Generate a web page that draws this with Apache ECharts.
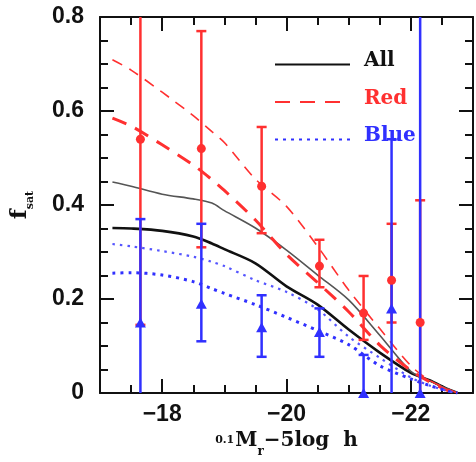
<!DOCTYPE html>
<html>
<head>
<meta charset="utf-8">
<script src="https://cdn.jsdelivr.net/npm/echarts@6/dist/echarts.min.js"></script>
<style>
  html, body { margin: 0; padding: 0; background: #fff; }
  #chart { width: 476px; height: 462px; }
</style>
</head>
<body>
<div id="chart"></div>
<script>
// Absolute magnitude grid shared by the model curves
const magGrid = [-17.2, -17.5, -18.0, -18.5, -18.8, -19.0, -19.5, -20.0, -20.5, -21.0, -21.5, -22.0, -22.3, -22.6, -22.75];

// Satellite fraction, two models per population
const allThick  = [0.351, 0.350, 0.345, 0.333, 0.318, 0.306, 0.276, 0.227, 0.188, 0.135, 0.086, 0.043, 0.027, 0.008, 0];
const allThin   = [0.449, 0.440, 0.423, 0.413, 0.404, 0.388, 0.351, 0.304, 0.251, 0.198, 0.123, 0.046, 0.026, 0.008, 0];
const redThick  = [0.585, 0.568, 0.528, 0.485, 0.454, 0.431, 0.368, 0.295, 0.235, 0.173, 0.102, 0.048, 0.024, 0.005, 0];
const redThin   = [0.709, 0.687, 0.640, 0.590, 0.556, 0.533, 0.455, 0.397, 0.312, 0.219, 0.137, 0.058, 0.027, 0.008, 0];
const blueThick = [0.255, 0.256, 0.251, 0.237, 0.222, 0.212, 0.188, 0.161, 0.133, 0.103, 0.058, 0.030, 0.016, 0.004, 0];
const blueThin  = [0.317, 0.312, 0.302, 0.290, 0.279, 0.270, 0.240, 0.215, 0.178, 0.120, 0.075, 0.033, 0.016, 0.004, 0];

// Measured fractions with error ranges
const pointMag = [-17.65, -18.63, -19.6, -20.53, -21.24, -21.69, -22.15];
const redFrac  = [0.54, 0.52, 0.44, 0.27, 0.17, 0.24, 0.15];
const redLow   = [0.145, 0.31, 0.34, 0.225, 0.113, 0.15, -0.1];
const redHigh  = [0.85, 0.77, 0.566, 0.326, 0.249, 0.36, 0.41];
const blueFrac = [0.15, 0.19, 0.14, 0.13, 0.0, 0.18, 0.0];
const blueLow  = [-0.05, 0.11, 0.077, 0.077, -0.05, -0.05, -0.1];
const blueHigh = [0.37, 0.36, 0.208, 0.18, 0.081, 0.54, 0.9];

// Axis ticks
const xMajorTicks = [-18, -20, -22];
const xMinorTicks = [-17.5, -18.5, -19, -19.5, -20.5, -21, -21.5, -22.5];
const yTicks = [0, 0.2, 0.4, 0.6, 0.8];

// Legend entries
const legendNames = ['All', 'Red', 'Blue'];

const INK = '#111';
const RED = '#ff3030';
const BLUE = '#3030ff';
const SERIF = '"DejaVu Serif", "Liberation Serif", serif';
const SANS = '"Liberation Sans", Arial, sans-serif';

const pair = (xs, ys) => xs.map((x, i) => [x, ys[i]]);

function errorBarRenderer(color, capHalf, width) {
  return function (params, api) {
    const x = api.value(0), lo = api.value(1), hi = api.value(2);
    const a = api.coord([x, Math.max(lo, 0)]);
    const b = api.coord([x, Math.min(hi, 0.8)]);
    const style = { stroke: color, lineWidth: width };
    const children = [{ type: 'line', shape: { x1: a[0], y1: a[1], x2: b[0], y2: b[1] }, style }];
    [lo, hi].forEach(v => {
      if (v >= 0 && v <= 0.8) {
        const p = api.coord([x, v]);
        children.push({ type: 'line', shape: { x1: p[0] - capHalf, y1: p[1], x2: p[0] + capHalf, y2: p[1] }, style });
      }
    });
    return { type: 'group', children };
  };
}

const xBase = {
  type: 'value', min: -23, max: -17, inverse: true, gridIndex: 0,
  splitLine: { show: false }
};
const tickLine = { color: INK, width: 2 };
const legendText = color => ({
  fontFamily: SERIF, fontWeight: 'bold', fontSize: 20, color: color, padding: [0, 0, 7, 9]
});

const chart = echarts.init(document.getElementById('chart'), null, { renderer: 'canvas' });
chart.setOption({
  animation: false,
  backgroundColor: '#fff',
  grid: { left: 100, right: 3, top: 17, bottom: 69, containLabel: false, outerBoundsMode: 'none' },
  legend: {
    left: 274, top: 51, padding: 0, orient: 'vertical', selectedMode: false,
    itemWidth: 75, itemHeight: 14, itemGap: 17.5,
    itemStyle: { opacity: 0, color: 'rgba(0,0,0,0)', borderWidth: 0 },
    data: legendNames,
    formatter: name => '{' + name.toLowerCase() + '|' + name + '}',
    textStyle: {
      rich: { all: legendText(INK), red: legendText(RED), blue: legendText(BLUE) }
    }
  },
  xAxis: [
    Object.assign({}, xBase, {
      position: 'bottom',
      axisLine: { show: true, lineStyle: tickLine },
      axisTick: { show: true, inside: true, length: 14, lineStyle: tickLine, customValues: xMajorTicks },
      axisLabel: {
        show: true, margin: 10, customValues: xMajorTicks,
        formatter: v => '\u2212' + Math.abs(v),
        fontFamily: SANS, fontWeight: 'bold', fontSize: 23, color: INK
      },
      name: '{sup|0.1}{m|M}{sub|r}{m|\u22125log}{h|h}',
      nameLocation: 'middle', nameGap: 34,
      nameTextStyle: {
        rich: {
          sup: { fontFamily: SERIF, fontWeight: 'bold', fontSize: 11, color: INK, lineHeight: 26, padding: [0, 1, 2, 0] },
          m: { fontFamily: SERIF, fontWeight: 'bold', fontSize: 20, color: INK, lineHeight: 26 },
          sub: { fontFamily: SERIF, fontWeight: 'bold', fontSize: 12, color: INK, lineHeight: 12, verticalAlign: 'bottom', padding: [0, 0, -4, 0] },
          h: { fontFamily: SERIF, fontWeight: 'bold', fontSize: 20, color: INK, lineHeight: 26, padding: [0, 0, 0, 14] }
        }
      }
    }),
    Object.assign({}, xBase, {
      position: 'bottom',
      axisLine: { show: false },
      axisTick: { show: true, inside: true, length: 8, lineStyle: tickLine, customValues: xMinorTicks },
      axisLabel: { show: false }
    }),
    Object.assign({}, xBase, {
      position: 'top',
      axisLine: { show: true, lineStyle: tickLine },
      axisTick: { show: true, inside: true, length: 14, lineStyle: tickLine, customValues: xMajorTicks },
      axisLabel: { show: false }
    }),
    Object.assign({}, xBase, {
      position: 'top',
      axisLine: { show: false },
      axisTick: { show: true, inside: true, length: 8, lineStyle: tickLine, customValues: xMinorTicks },
      axisLabel: { show: false }
    })
  ],
  yAxis: [
    {
      type: 'value', min: 0, max: 0.8, interval: 0.2, position: 'left',
      splitLine: { show: false },
      axisLine: { show: true, lineStyle: tickLine },
      axisTick: { show: true, inside: true, length: 14, lineStyle: tickLine, customValues: yTicks },
      minorTick: { show: true, splitNumber: 4, length: 8, lineStyle: tickLine },
      axisLabel: {
        show: true, margin: 16, customValues: yTicks,
        formatter: v => (v === 0 ? '0' : v.toFixed(1)),
        fontFamily: SANS, fontWeight: 'bold', fontSize: 23, color: INK
      },
      name: '{f|f}{s|sat}', nameLocation: 'middle', nameRotate: 90, nameGap: 67,
      nameTextStyle: {
        rich: {
          f: { fontFamily: SERIF, fontWeight: 'bold', fontSize: 23, color: INK, lineHeight: 26 },
          s: { fontFamily: SERIF, fontWeight: 'bold', fontSize: 11, color: INK, lineHeight: 12, verticalAlign: 'bottom', padding: [0, 0, -3, 0] }
        }
      }
    },
    {
      type: 'value', min: 0, max: 0.8, interval: 0.2, position: 'right',
      splitLine: { show: false },
      axisLine: { show: true, lineStyle: tickLine },
      axisTick: { show: true, inside: true, length: 14, lineStyle: tickLine },
      minorTick: { show: true, splitNumber: 4, length: 8, lineStyle: tickLine },
      axisLabel: { show: false }
    }
  ],
  series: [
    {
      name: 'All', type: 'line', data: pair(magGrid, allThick), symbol: 'none', smooth: 0.3, z: 3,
      lineStyle: { color: INK, width: 2.6 }, itemStyle: { color: INK }
    },
    {
      name: 'All, model B', type: 'line', data: pair(magGrid, allThin), symbol: 'none', smooth: 0.3, z: 3,
      lineStyle: { color: '#555', width: 1.6 }, itemStyle: { color: '#555' }
    },
    {
      name: 'Red', type: 'line', data: pair(magGrid, redThick), symbol: 'none', smooth: 0.3, z: 3,
      lineStyle: { color: RED, width: 3, type: [15, 10] }, itemStyle: { color: RED }
    },
    {
      name: 'Red, model B', type: 'line', data: pair(magGrid, redThin), symbol: 'none', smooth: 0.3, z: 3,
      lineStyle: { color: RED, width: 1.6, type: [11, 8] }, itemStyle: { color: RED }
    },
    {
      name: 'Blue', type: 'line', data: pair(magGrid, blueThick), symbol: 'none', smooth: 0.3, z: 3,
      lineStyle: { color: BLUE, width: 3, type: [3, 5] }, itemStyle: { color: BLUE }
    },
    {
      name: 'Blue, model B', type: 'line', data: pair(magGrid, blueThin), symbol: 'none', smooth: 0.3, z: 3,
      lineStyle: { color: '#5555ff', width: 2.2, type: [2.5, 5] }, itemStyle: { color: '#5555ff' }
    },
    {
      name: 'Red errors', type: 'custom', z: 4,
      renderItem: errorBarRenderer(RED, 5, 2.5),
      encode: { x: 0, y: [1, 2] },
      data: pointMag.map((m, i) => [m, redLow[i], redHigh[i]])
    },
    {
      name: 'Blue errors', type: 'custom', z: 5,
      renderItem: errorBarRenderer(BLUE, 5, 2.5),
      encode: { x: 0, y: [1, 2] },
      data: pointMag.map((m, i) => [m, blueLow[i], blueHigh[i]])
    },
    {
      name: 'Red points', type: 'scatter', z: 6, symbol: 'circle', symbolSize: 9,
      itemStyle: { color: RED, opacity: 1 },
      data: pair(pointMag, redFrac)
    },
    {
      name: 'Blue points', type: 'scatter', z: 7, symbol: 'triangle', symbolSize: [11, 10],
      itemStyle: { color: BLUE, opacity: 1 },
      data: pair(pointMag, blueFrac)
    }
  ]
});
</script>
</body>
</html>
